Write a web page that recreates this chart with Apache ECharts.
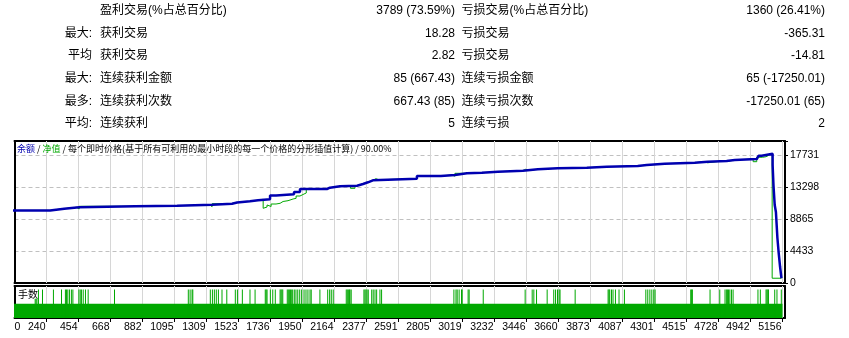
<!DOCTYPE html>
<html><head><meta charset="utf-8">
<script src="https://cdn.jsdelivr.net/npm/echarts@6/dist/echarts.min.js"></script>
<style>html,body{margin:0;padding:0;background:#fff}#c{width:849px;height:338px}</style>
</head><body><div id="c"></div>
<script>
// ---- statistics table ----
const statPrefixLeft = ['', '最大:', '平均', '最大:', '最多:', '平均:'];
const statNamesLeft = ['盈利交易(%占总百分比)', '获利交易', '获利交易', '连续获利金额', '连续获利次数', '连续获利'];
const statValuesLeft = ['3789 (73.59%)', '18.28', '2.82', '85 (667.43)', '667.43 (85)', '5'];
const statNamesRight = ['亏损交易(%占总百分比)', '亏损交易', '亏损交易', '连续亏损金额', '连续亏损次数', '连续亏损'];
const statValuesRight = ['1360 (26.41%)', '-365.31', '-14.81', '65 (-17250.01)', '-17250.01 (65)', '2'];

// ---- axes ----
const xTickLabels = ['0','240','454','668','882','1095','1309','1523','1736','1950','2164','2377','2591','2805','3019','3232','3446','3660','3873','4087','4301','4515','4728','4942','5156'];
const yTickLabels = ['0','4433','8865','13298','17731'];

// ---- balance (trade #, balance) ----
const balanceTrades = [0,264,358,458,832,1112,1346,1479,1513,1599,1653,1733,1773,1893,1933,2113,2133,2200,2314,2354,2387,2420,2714,2874,2968,3048,3148,3255,3422,3522,3655,3849,3982,4189,4249,4369,4570,4656,4783,4837,4984,4997,5017,5030,5090,5096,5104,5112,5122,5130,5140,5149];
const balanceValues = [10050,10292,10486,10624,10708,10846,10985,11151,11317,11456,11594,12121,12287,12605,13021,13201,13395,13478,13713,13949,14226,14448,14822,14960,15196,15279,15417,15556,15750,15888,15971,16110,16207,16345,16526,16664,16803,16899,17038,17176,17412,17634,17828,17911,16345,13436,10805,9835,6233,4294,2216,661];

// ---- equity (trade #, equity) ----
const equityTrades = [0,264,358,440,458,832,1112,1330,1346,1470,1479,1513,1599,1653,1687,1700,1713,1726,1740,1773,1800,1820,1853,1887,1907,1933,1960,1975,2113,2133,2200,2270,2300,2314,2354,2387,2420,2440,2460,2714,2874,2946,2968,3048,3148,3255,3422,3440,3460,3522,3645,3655,3849,3982,4189,4249,4369,4570,4630,4656,4750,4783,4837,4960,4984,5023,5046,5060,5087,5149];
const equityValues = [10050,10292,10486,10250,10624,10708,10846,10569,10985,10708,11151,11317,11456,11594,10347,10527,10805,10600,10943,11040,11290,11400,11636,11733,12051,12328,12467,13021,13201,13395,13478,13118,13478,13713,13949,14226,14448,14300,14448,14822,14960,14800,15196,15279,15417,15556,15750,15600,15750,15888,15800,15971,16110,16207,16345,16526,16664,16803,16650,16899,16850,17038,17176,16803,17412,17495,17634,17911,661,661];

// ---- lots panel ----
const lotBaseTrades = [0, 5156];
const lotBaseValue = 0.10;
const lotSpikeTrades = [164,170,176,186,213,286,340,366,373,382,393,406,416,456,465,473,485,500,518,694,1187,1199,1212,1217,1334,1348,1361,1374,1388,1412,1444,1501,1515,1548,1599,1633,1701,1707,1713,1735,1751,1768,1800,1806,1812,1818,1848,1855,1862,1869,1875,1884,1895,1906,1918,1931,1944,1960,1973,1986,2000,2008,2066,2118,2131,2142,2155,2242,2249,2256,2263,2267,2275,2360,2367,2374,2381,2389,2412,2422,2434,2445,2467,2478,2961,2975,2983,2996,3012,3016,3056,3063,3157,3437,3484,3495,3513,3584,3628,3640,3653,3664,3670,3771,3991,3997,4002,4014,4024,4040,4064,4100,4243,4256,4270,4283,4296,4305,4543,4549,4554,4672,4737,4772,4781,4788,4795,4804,4815,4826,4992,5008,5046,5052,5058,5062,5104,5119,5148];
const lotSpikeValues = lotSpikeTrades.map((t,i)=> i < 3 ? 0.135 : 0.20);

// ---- chart ----
const xMin = 26, xStep = 213.75, xMax = 5172.7;
const xTickValues = xTickLabels.map((s,i)=> xMin + i*xStep);   // trade positions of the tick labels
const yStep = 4432.75, yMax = 19670;
const lotMax = 0.225;
const BLUE = '#0000b0', GREEN = '#00a800', GRID = '#c0c0c0', GRIDV = '#d6d6d6';
const axisFont = '"Liberation Sans Narrow","Liberation Sans",sans-serif';
const hGridLine = {show:true, showMinLine:false, showMaxLine:false, lineStyle:{color:GRID, type:[4,3], width:1}};
const frameLine = {show:true, onZero:false, lineStyle:{color:'#000', width:2}};

function xFmt(v){
  const i = xTickValues.findIndex(t => Math.abs(t - v) < 0.5);
  return i >= 0 ? xTickLabels[i] : '';
}
function yFmt(v){
  const i = Math.round(v/yStep);
  if (Math.abs(v - i*yStep) < 0.5 && i >= 0 && i < yTickLabels.length) return yTickLabels[i];
  return '';
}
const pairs = (xs, ys) => xs.map((x,i)=>[x, ys[i]]);
function frameAxis(extra){
  return Object.assign({type:'value', axisLine:frameLine, axisTick:{show:false}, axisLabel:{show:false}, splitLine:{show:false}}, extra);
}
// 1px full-height columns at every x tick (vertical grid lines / tick marks)
function tickColumns(name, xi, yi, top, color, z){
  return {name:name, type:'bar', xAxisIndex:xi, yAxisIndex:yi, barWidth:1, barGap:'-100%', silent:true, z:z,
    data: xTickValues.slice(1).map(v=>[v, top]), itemStyle:{color:color}};
}

const rowY = [10.5, 33.2, 55.9, 78.6, 101.3, 124];
const tFont = '12px "Liberation Sans","Noto Sans CJK SC",sans-serif';
function txt(x, y, s, align){
  return {type:'text', x:x, y:y, z:100, silent:true,
    style:{text:s, font:tFont, fill:'#000', align:align, verticalAlign:'middle'}};
}
const graphics = [];
rowY.forEach((y,i)=>{
  graphics.push(txt(92, y, statPrefixLeft[i], 'right'));
  graphics.push(txt(100, y, statNamesLeft[i], 'left'));
  graphics.push(txt(455, y, statValuesLeft[i], 'right'));
  graphics.push(txt(461.5, y, statNamesRight[i], 'left'));
  graphics.push(txt(825, y, statValuesRight[i], 'right'));
});
graphics.push({type:'text', x:18, y:294.5, z:100, silent:true,
  style:{text:'手数', font:'10px "Noto Sans CJK SC"', fill:'#000', align:'left', verticalAlign:'middle'}});

const chart = echarts.init(document.getElementById('c'));
chart.setOption({
  animation:false,
  backgroundColor:'#fff',
  title:{
    left:17, top:144, padding:0,
    text:'{b|余额} / {g|净值} / 每个即时价格(基于所有可利用的最小时段的每一个价格的分形插值计算) / 90.00%',
    textStyle:{fontSize:9, color:'#000', fontWeight:'normal', fontFamily:'"Noto Sans CJK SC"',
      rich:{
        b:{color:BLUE, fontSize:9, fontFamily:'"Noto Sans CJK SC"'},
        g:{color:GREEN, fontSize:9, fontFamily:'"Noto Sans CJK SC"'}
      }}
  },
  graphic: graphics,
  grid:[
    {left:14.5, top:141, width:770.5, height:142, show:false},
    {left:14.5, top:286, width:770.5, height:32, show:false},
    {left:14.5, top:319, width:770.5, height:3, show:false}
  ],
  xAxis:[
    {type:'value', gridIndex:0, min:xMin, max:xMax,
     axisLine:frameLine, axisTick:{show:false}, axisLabel:{show:false}, splitLine:{show:false}},
    {type:'value', gridIndex:1, min:xMin, max:xMax,
     axisLine:frameLine, axisTick:{show:false, customValues:xTickValues},
     axisLabel:{show:true, customValues:xTickValues, formatter:xFmt, align:'right', alignMinLabel:'left', margin:4, color:'#000',
       fontSize:10.5, fontFamily:axisFont, showMinLabel:true, showMaxLabel:true, padding:[0,1,0,0]},
     splitLine:{show:false}},
    frameAxis({gridIndex:0, position:'top', min:xMin, max:xMax}),
    frameAxis({gridIndex:1, position:'top', min:xMin, max:xMax}),
    {type:'value', gridIndex:2, min:xMin, max:xMax, show:false}
  ],
  yAxis:[
    {type:'value', gridIndex:0, position:'right', min:0, max:yMax, interval:yStep,
     axisLine:frameLine, axisTick:{show:true, length:3, lineStyle:{color:'#000'}},
     axisLabel:{formatter:yFmt, margin:5, color:'#000', fontSize:10.5, fontFamily:axisFont, showMinLabel:true, showMaxLabel:true},
     splitLine:hGridLine},
    {type:'value', gridIndex:1, position:'right', min:0, max:lotMax,
     axisLine:frameLine, axisTick:{show:false}, axisLabel:{show:false}, splitLine:{show:false}},
    frameAxis({gridIndex:0, position:'left', min:0, max:yMax}),
    frameAxis({gridIndex:1, position:'left', min:0, max:lotMax}),
    {type:'value', gridIndex:2, min:0, max:1, show:false}
  ],
  series:[
    tickColumns('gridV0', 0, 0, yMax, GRIDV, 1),
    tickColumns('gridV1', 1, 1, lotMax, GRIDV, 1),
    tickColumns('ticksX', 4, 4, 1, '#000', 1),
    {name:'净值', type:'line', xAxisIndex:0, yAxisIndex:0, step:'end', showSymbol:false,
     data:pairs(equityTrades, equityValues), lineStyle:{color:GREEN, width:1}, z:3},
    {name:'余额', type:'line', xAxisIndex:0, yAxisIndex:0, step:'end', showSymbol:false,
     data:pairs(balanceTrades, balanceValues), lineStyle:{color:BLUE, width:2.5}, z:4},
    {name:'手数基', type:'line', xAxisIndex:1, yAxisIndex:1, showSymbol:false,
     data:lotBaseTrades.map(t=>[t, lotBaseValue]), lineStyle:{width:0, color:GREEN},
     areaStyle:{color:GREEN, opacity:1}, z:2},
    {name:'手数', type:'bar', xAxisIndex:1, yAxisIndex:1, barWidth:1, barGap:'-100%',
     data:pairs(lotSpikeTrades, lotSpikeValues), itemStyle:{color:GREEN}, z:2}
  ]
});
</script></body></html>
